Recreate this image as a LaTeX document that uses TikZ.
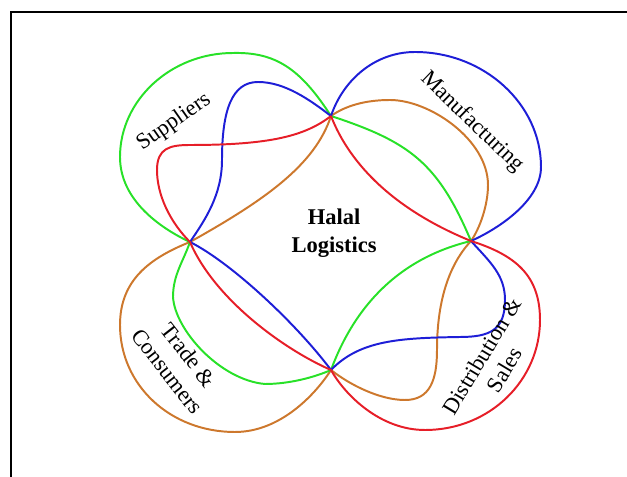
\documentclass[tikz,border=0pt]{standalone}
\usepackage{fontspec}
\setmainfont{Liberation Serif}
\definecolor{lgreen}{RGB}{40,225,40}
\definecolor{lblue}{RGB}{30,30,215}
\definecolor{lred}{RGB}{230,30,40}
\definecolor{lbrown}{RGB}{205,120,45}
\begin{document}
\begin{tikzpicture}
  [
    x                 = 0.025cm,
    y                 = -0.025cm,
    loop/.style       = {line width=1.4pt, line join=round},
    every node/.style = {font=\fontsize{16}{19}\selectfont},
    area/.style       = {align=center}
  ]
  \useasboundingbox (0,0) rectangle (627,477);
  \draw[line width=0.9pt] (627,12) -- (11,12) -- (11,477);

  % crossing points
  \coordinate (top)    at (331,116);
  \coordinate (left)   at (190,242);
  \coordinate (right)  at (471,241);
  \coordinate (bottom) at (331,370);

  \draw[loop, lbrown] (top) .. controls (315,165) and (265,200) .. (left)
    .. controls (150,258) and (120,280) .. (120,325)
    .. controls (120,385) and (170,432) .. (235,432)
    .. controls (280,432) and (315,395) .. (bottom)
    .. controls (350,385) and (380,400) .. (405,400)
    .. controls (430,400) and (437,380) .. (437,350)
    .. controls (437,290) and (455,258) .. (right)
    .. controls (480,228) and (488,205) .. (488,185)
    .. controls (488,140) and (430,100) .. (390,100)
    .. controls (365,100) and (345,106) .. (top);

  \draw[loop, lgreen] (top) .. controls (300,68) and (275,52) .. (233,53)
    .. controls (171,53) and (120,100) .. (120,157)
    .. controls (120,200) and (160,228) .. (left)
    .. controls (183,262) and (173,275) .. (173,297)
    .. controls (175,330) and (220,380) .. (265,384)
    .. controls (290,384) and (315,377) .. (bottom)
    .. controls (355,305) and (400,258) .. (right)
    .. controls (438,163) and (410,142) .. (top);

  \draw[loop, lblue] (top) .. controls (343,80) and (375,52) .. (415,52)
    .. controls (484,52) and (541,104) .. (541,167)
    .. controls (541,200) and (500,228) .. (right)
    .. controls (490,262) and (505,275) .. (505,300)
    .. controls (505,330) and (490,337) .. (460,337)
    .. controls (400,338) and (360,340) .. (bottom)
    .. controls (295,322) and (230,262) .. (left)
    .. controls (205,220) and (222,195) .. (222,160)
    .. controls (222,110) and (232,82) .. (258,82)
    .. controls (285,82) and (310,100) .. (top);

  \draw[loop, lred] (top) .. controls (350,165) and (395,210) .. (right)
    .. controls (515,255) and (540,275) .. (540,320)
    .. controls (540,380) and (490,430) .. (425,430)
    .. controls (380,430) and (345,395) .. (bottom)
    .. controls (285,350) and (215,300) .. (left)
    .. controls (170,222) and (157,195) .. (157,170)
    .. controls (157,148) and (170,145) .. (190,145)
    .. controls (270,145) and (305,136) .. (top);

  % labels
  \node[rotate=35]        (suppliers) at (174,122) {Suppliers};
  \node[rotate=-44]       (manuf)     at (472,122) {Manufacturing};
  \node[area, rotate=-52] (trade)     at (178,363) {Trade \&\\Consumers};
  \node[area, rotate=59]  (distr)     at (493,363) {Distribution \&\\Sales};
  \node[area, font=\fontsize{16}{20}\selectfont\bfseries]
                          (halal)     at (334,233) {Halal\\Logistics};
\end{tikzpicture}
\end{document}
